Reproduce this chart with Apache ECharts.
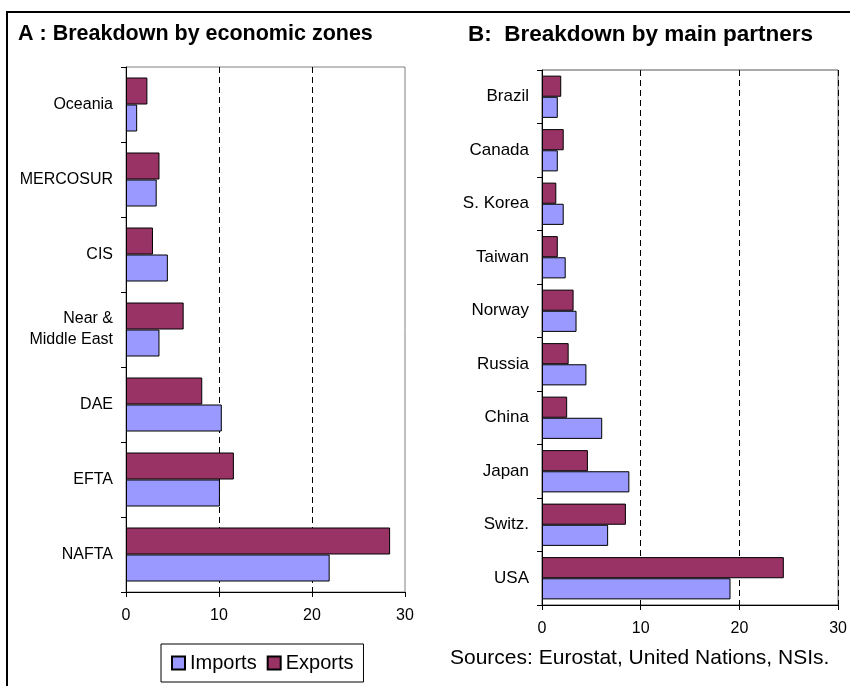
<!DOCTYPE html>
<html lang="en">
<head>
    <meta charset="UTF-8">
    <title>Breakdown by economic zones and main partners</title>
    <script src="https://cdn.jsdelivr.net/npm/echarts@6/dist/echarts.min.js"></script>
    <style>
        body { margin: 0; background: #fff; }
        #chart { width: 850px; height: 686px; }
    </style>
</head>
<body>
    <div id="chart"></div>
    <script>
        // A: economic zones (bottom to top)
        var zones = ['NAFTA', 'EFTA', 'DAE', 'Near &\nMiddle East', 'CIS', 'MERCOSUR', 'Oceania'];
        var zoneImports = [21.9, 10.1, 10.3, 3.6, 4.5, 3.3, 1.2];
        var zoneExports = [28.4, 11.6, 8.2, 6.2, 2.9, 3.6, 2.3];

        // B: main partners (bottom to top)
        var partners = ['USA', 'Switz.', 'Japan', 'China', 'Russia', 'Norway', 'Taiwan', 'S. Korea', 'Canada', 'Brazil'];
        var partnerImports = [19.1, 6.7, 8.85, 6.1, 4.5, 3.5, 2.4, 2.2, 1.6, 1.6];
        var partnerExports = [24.5, 8.5, 4.65, 2.55, 2.7, 3.2, 1.6, 1.45, 2.2, 1.95];

        var xTicks = [0, 10, 20, 30];

        var font = 'Liberation Sans, Arial, sans-serif';
        var impColor = '#9999ff';
        var expColor = '#993366';

        function valueAxis(gridIndex, maxLine) {
            return {
                type: 'value', gridIndex: gridIndex,
                min: xTicks[0], max: xTicks[xTicks.length - 1], interval: 10,
                axisLine: {show: true, lineStyle: {color: '#000'}},
                axisTick: {show: true, length: 5, lineStyle: {color: '#000'}},
                axisLabel: {color: '#000', fontFamily: font, fontSize: 16, margin: 16},
                splitLine: {show: true, showMinLine: false, showMaxLine: maxLine,
                    lineStyle: {color: '#000', type: [6, 4], width: 1}}
            };
        }

        function catAxis(gridIndex, data, size) {
            return {
                type: 'category', gridIndex: gridIndex, data: data,
                axisLine: {show: true, lineStyle: {color: '#000'}},
                axisTick: {show: true, length: 5, lineStyle: {color: '#000'}},
                axisLabel: {color: '#000', fontFamily: font, fontSize: size, margin: 13, lineHeight: size + 5}
            };
        }

        function bar(name, idx, data, color, gap) {
            return {
                name: name, type: 'bar', xAxisIndex: idx, yAxisIndex: idx,
                data: data, barGap: '0%', barCategoryGap: gap,
                itemStyle: {color: color, borderColor: '#000', borderWidth: 1},
                emphasis: {disabled: true}
            };
        }

        var chart = echarts.init(document.getElementById('chart'));

        var option = {
            animation: false,
            grid: [
                {left: 126, top: 67, right: 445, bottom: 94, show: true, borderColor: '#808080', borderWidth: 1},
                {left: 542, top: 70, right: 9, bottom: 81, show: true, borderColor: '#555', borderWidth: 1}
            ],
            xAxis: [valueAxis(0, false), valueAxis(1, true)],
            yAxis: [catAxis(0, zones, 16), catAxis(1, partners, 17)],
            legend: {
                data: ['Imports', 'Exports'],
                left: 161, top: 644,
                icon: 'rect', itemWidth: 13, itemHeight: 13, itemGap: 10,
                padding: [9, 10],
                borderColor: '#000', borderWidth: 1,
                textStyle: {color: '#000', fontFamily: font, fontSize: 20}
            },
            series: [
                bar('Exports', 0, zoneExports, expColor, '28%'),
                bar('Imports', 0, zoneImports, impColor, '28%'),
                bar('Exports', 1, partnerExports, expColor, '21%'),
                bar('Imports', 1, partnerImports, impColor, '21%')
            ],
            graphic: [
                {
                    type: 'polyline', silent: true,
                    shape: {points: [[7, 686], [7, 12], [850, 12]]},
                    style: {stroke: '#000', lineWidth: 2, fill: null}
                },
                {
                    type: 'text', left: 18, top: 23,
                    style: {text: 'A : Breakdown by economic zones', font: 'bold 21.5px ' + font, fill: '#000'}
                },
                {
                    type: 'text', left: 468, top: 23,
                    style: {text: 'B:  Breakdown by main partners', font: 'bold 22.5px ' + font, fill: '#000'}
                },
                {
                    type: 'text', left: 450, top: 648,
                    style: {text: 'Sources: Eurostat, United Nations, NSIs.', font: '21px ' + font, fill: '#000'}
                }
            ]
        };

        chart.setOption(option);
    </script>
</body>
</html>
